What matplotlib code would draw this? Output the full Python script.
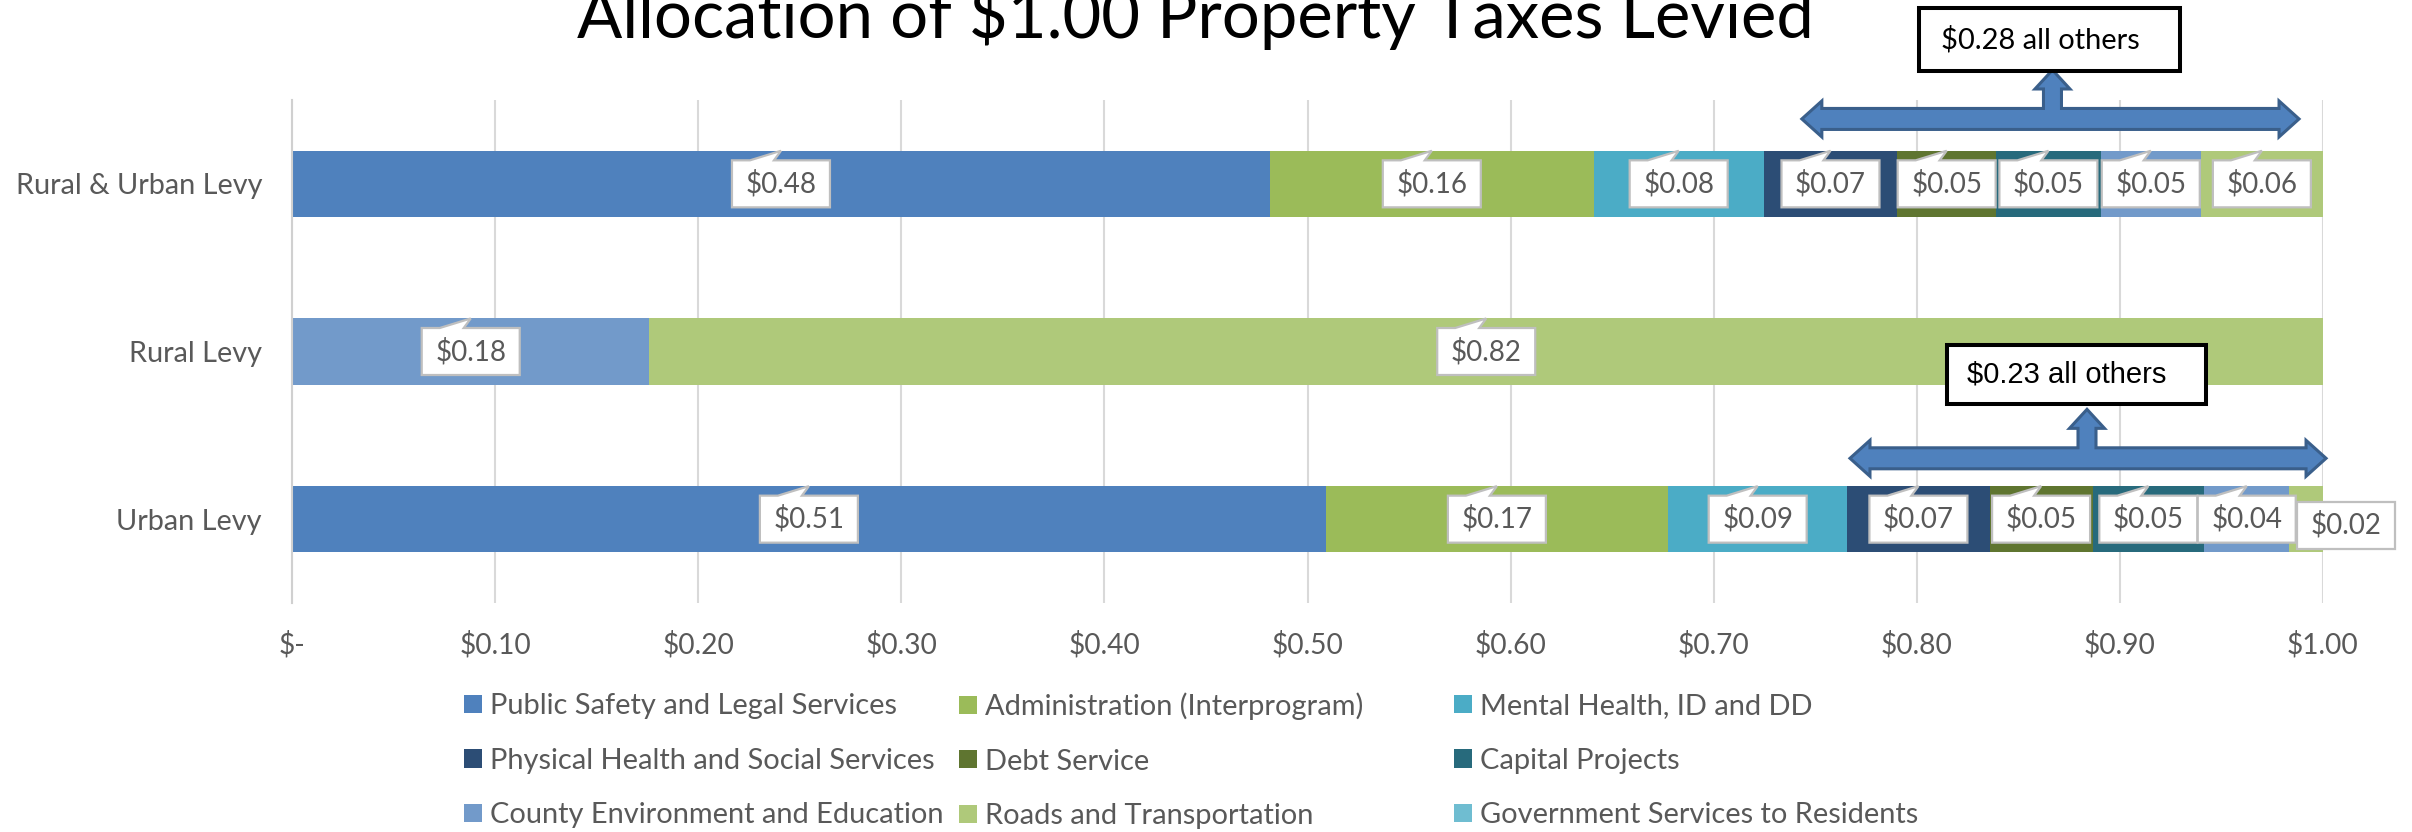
import numpy as np
import matplotlib
matplotlib.use("Agg")
import matplotlib.pyplot as plt
from matplotlib.patches import Polygon, Rectangle, Patch
from matplotlib.transforms import IdentityTransform
from matplotlib.font_manager import FontProperties

# ---------------- data ----------------
TITLE = "Allocation of $1.00 Property Taxes Levied"
categories = ["Rural & Urban Levy", "Rural Levy", "Urban Levy"]
series_names = [
    "Public Safety and Legal Services",
    "Administration (Interprogram)",
    "Mental Health, ID and DD",
    "Physical Health and Social Services",
    "Debt Service",
    "Capital Projects",
    "County Environment and Education",
    "Roads and Transportation",
    "Government Services to Residents",
]
public_safety = [0.4815, 0.0, 0.5090]
administration = [0.1594, 0.0, 0.1685]
mental_health = [0.0837, 0.0, 0.0883]
physical_health = [0.0658, 0.0, 0.0700]
debt_service = [0.0486, 0.0, 0.0508]
capital_projects = [0.0516, 0.0, 0.0548]
county_environment = [0.0492, 0.1760, 0.0421]
roads_transportation = [0.0602, 0.8240, 0.0165]
government_services = [0.0, 0.0, 0.0]
x_ticks = [0.0, 0.1, 0.2, 0.3, 0.4, 0.5, 0.6, 0.7, 0.8, 0.9, 1.0]
x_tick_labels = ["$-", "$0.10", "$0.20", "$0.30", "$0.40", "$0.50",
                 "$0.60", "$0.70", "$0.80", "$0.90", "$1.00"]
others_from_series = 3          # "all others" = Physical Health onward
callout_rows = [0, 2]

# ---------------- style ----------------
series_colors = ["#4F81BD", "#9BBB59", "#4BACC6", "#2C4D75", "#5F7530",
                 "#276A7C", "#729ACA", "#AFC97A", "#6FBDD1"]
TEXT_GREY = "#595959"
GRID = "#D9D9D9"
W, H, DPI = 2412, 832, 100
LATO = ["Lato", "DejaVu Sans"]
ARIAL = ["Liberation Sans", "DejaVu Sans"]

plt.rcParams["font.family"] = LATO
fig = plt.figure(figsize=(W / DPI, H / DPI), dpi=DPI)
fig.patch.set_facecolor("white")
renderer = fig.canvas.get_renderer()


def esc(s):
    return s.replace("$", r"\$")


def fit_pt(text, target_px, family=LATO):
    fp = FontProperties(family=family, size=20)
    w, _, _ = renderer.get_text_width_height_descent(text, fp, ismath=False)
    return 20.0 * target_px / w


title_fs = fit_pt(TITLE, 1239)
tick_fs = fit_pt("$0.10", 72)
cat_fs = fit_pt("Rural & Urban Levy", 247)
legend_fs = fit_pt("Public Safety and Legal Services", 407)
label_fs = fit_pt("$0.17", 71)

# axes in pixel layout (top-left origin in image)
ax_l, ax_r, ax_t, ax_b = 292, 2323, 100, 603
ax = fig.add_axes([ax_l / W, 1 - ax_b / H, (ax_r - ax_l) / W, (ax_b - ax_t) / H])

values = [public_safety, administration, mental_health, physical_health,
          debt_service, capital_projects, county_environment,
          roads_transportation, government_services]
ypos = np.arange(len(categories))
BAR_H = 0.394
lefts = []
left = np.zeros(len(categories))
for name, vals, col in zip(series_names, values, series_colors):
    vals = np.asarray(vals, dtype=float)
    ax.barh(ypos, vals, left=left, height=BAR_H, color=col, label=name,
            zorder=2, linewidth=0)
    lefts.append(left.copy())
    left = left + vals

ax.set_xlim(0, 1)
ax.set_ylim(len(categories) - 0.5, -0.5)
ax.set_xticks(x_ticks)
ax.set_xticklabels([esc(s) for s in x_tick_labels], fontsize=tick_fs, color=TEXT_GREY)
ax.set_yticks(ypos)
ax.set_yticklabels([esc(c) for c in categories], fontsize=cat_fs, color=TEXT_GREY)
ax.tick_params(axis="x", length=0, pad=20)
ax.tick_params(axis="y", length=0, pad=21.6)
ax.grid(axis="x", color=GRID, lw=1.5, zorder=0)
ax.set_axisbelow(True)
for s in ["top", "right", "bottom"]:
    ax.spines[s].set_visible(False)
ax.spines["left"].set_color("#D0D0D0")
ax.spines["left"].set_linewidth(1.5)

ID = IdentityTransform()
T = ax.transData

# ---------------- data labels (callout boxes) ----------------
BW, BH = 98, 47
for j, vals in enumerate(values):
    for i, v in enumerate(vals):
        if v <= 0:
            continue
        xc = lefts[j][i] + v / 2.0
        cx, cy = T.transform((xc, ypos[i]))
        seg_px = v * (ax_r - ax_l)
        tail = True
        if seg_px < 50:
            cx += 40
            cy -= 6
            tail = False
        l, r = cx - BW / 2, cx + BW / 2
        b, t = cy - BH / 2, cy + BH / 2
        if tail:
            _, tip_y = T.transform((xc, ypos[i] - BAR_H / 2))
            verts = [(l, b), (r, b), (r, t), (cx - 7, t), (cx, tip_y),
                     (cx - 31, t), (l, t)]
        else:
            verts = [(l, b), (r, b), (r, t), (l, t)]
        ax.add_patch(Polygon(verts, closed=True, fc="white", ec="#BFBFBF",
                             lw=1.6, transform=ID, clip_on=False, zorder=5))
        ax.text(cx, cy, esc(f"${v:.2f}"), transform=ID, ha="center",
                va="center", fontsize=label_fs, color=TEXT_GREY, zorder=6,
                clip_on=False)


# ---------------- "all others" bracket arrows ----------------
def bracket_arrow(x_left, x_right, x_stem, y_bar, y_tip):
    xl, yc = T.transform((x_left, y_bar))
    xr, _ = T.transform((x_right, y_bar))
    xs, yt = T.transform((x_stem, y_tip))
    st, hh, hl = 10.5, 18, 20
    sw, shw, shl = 9, 17.5, 19
    verts = [
        (xl, yc), (xl + hl, yc + hh), (xl + hl, yc + st), (xs - sw, yc + st),
        (xs - sw, yt - shl), (xs - shw, yt - shl), (xs, yt),
        (xs + shw, yt - shl), (xs + sw, yt - shl), (xs + sw, yc + st),
        (xr - hl, yc + st), (xr - hl, yc + hh), (xr, yc),
        (xr - hl, yc - hh), (xr - hl, yc - st), (xl + hl, yc - st),
        (xl + hl, yc - hh),
    ]
    ax.add_patch(Polygon(verts, closed=True, fc="#4F81BD", ec="#3A5F8B",
                         lw=2.2, transform=ID, clip_on=False, zorder=7,
                         joinstyle="miter"))


def callout_box(x0, x1, y0, y1, text, family, target_px, text_dx):
    (bl, bb) = T.transform((x0, y1))
    (br, bt) = T.transform((x1, y0))
    ax.add_patch(Rectangle((bl, bb), br - bl, bt - bb, fc="white", ec="black",
                           lw=2.9, transform=ID, clip_on=False, zorder=8))
    fs = fit_pt(text, target_px, family)
    ax.text(bl + text_dx, (bb + bt) / 2, esc(text), transform=ID, ha="left",
            va="center", fontsize=fs, color="black", family=family,
            zorder=9, clip_on=False)


# positions (data coords) of the annotation shapes
arrow_geom = {
    0: dict(x_left=0.7434, x_right=0.9882, x_stem=0.8668, y_bar=-0.387,
            y_tip=-0.679, box=(0.8011, 0.9296, -1.049, -0.673),
            family=LATO, text_dx=22),
    2: dict(x_left=0.7671, x_right=1.0015, x_stem=0.8838, y_bar=1.637,
            y_tip=1.345, box=(0.8149, 0.9424, 0.963, 1.315),
            family=ARIAL, text_dx=20),
}
for row in callout_rows:
    g = arrow_geom[row]
    others = sum(values[j][row] for j in range(others_from_series, len(values)))
    txt = f"${others:.2f} all others"
    bracket_arrow(g["x_left"], g["x_right"], g["x_stem"], g["y_bar"], g["y_tip"])
    x0, x1, y0, y1 = g["box"]
    callout_box(x0, x1, y0, y1, txt, g["family"], 199, g["text_dx"])

# ---------------- title ----------------
fig.text(1195.5 / W, 1 - 37.7 / H, esc(TITLE), ha="center", va="baseline",
         fontsize=title_fs, color="black")

# ---------------- legend (3 equal-width columns, row-wise order) ----------------
handles = [Patch(facecolor=c, edgecolor="none", label=n)
           for n, c in zip(series_names, series_colors)]
fs_px = legend_fs * DPI / 72.0
col_x = [464, 959, 1454]
for c in range(3):
    hs = [handles[c], handles[c + 3], handles[c + 6]]
    fig.legend(handles=hs, loc="center left",
               bbox_to_anchor=(col_x[c] / W, 1 - 760.7 / H),
               frameon=False, borderpad=0, borderaxespad=0,
               handlelength=18 / fs_px, handleheight=17 / fs_px,
               handletextpad=8 / fs_px, labelspacing=0.98,
               fontsize=legend_fs, labelcolor=TEXT_GREY)

fig.savefig("out.png", dpi=DPI)
